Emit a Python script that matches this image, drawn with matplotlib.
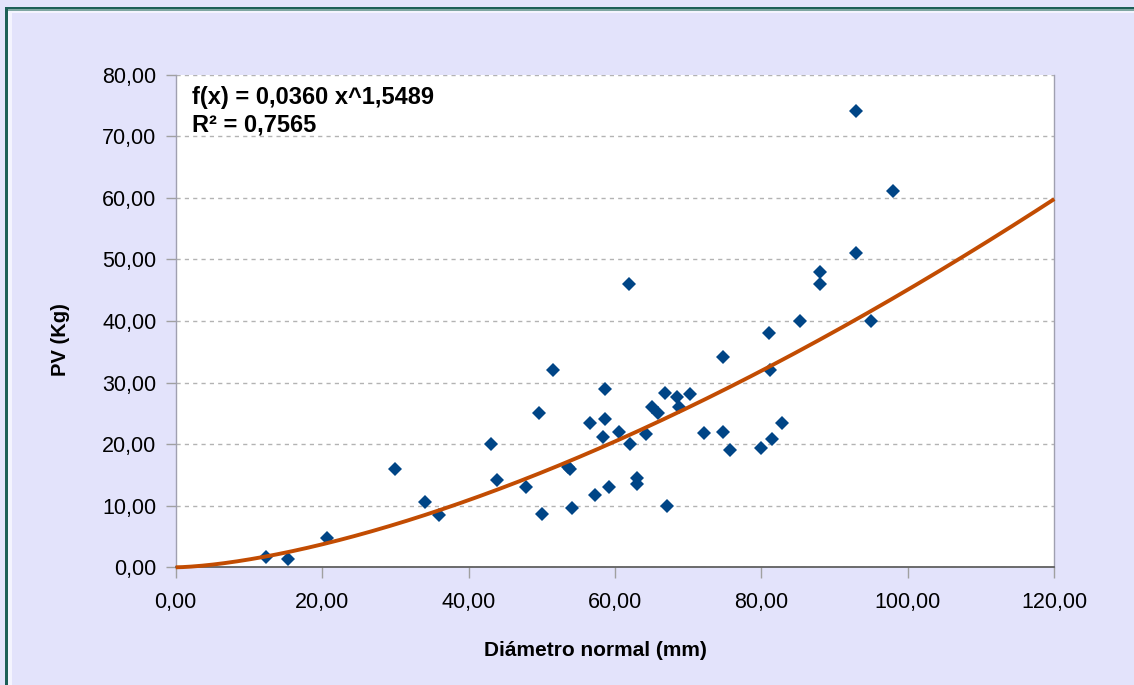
import matplotlib
matplotlib.use("Agg")
import matplotlib.pyplot as plt
from matplotlib.patches import Rectangle
from matplotlib.ticker import FuncFormatter
import numpy as np

plt.rcParams['font.family'] = ['Liberation Sans', 'DejaVu Sans']

# Diameter (mm) and weight PV (kg) of each sampled tree
diametro = [12.4, 15.3, 20.7, 29.9, 34.0, 35.9, 43.0, 43.9, 47.8, 49.6,
            50.0, 51.6, 53.6, 53.9, 54.1, 56.6, 57.3, 58.3, 58.6, 58.6,
            59.2, 60.5, 61.95, 62.1, 63.0, 63.0, 64.3, 65.05, 65.9, 66.8,
            67.1, 68.4, 68.7, 70.2, 72.2, 74.8, 74.8, 75.7, 79.9, 81.0,
            81.2, 81.5, 82.8, 85.3, 88.0, 88.0, 92.9, 92.9, 95.0, 98.0]
peso = [1.6, 1.4, 4.8, 16.0, 10.6, 8.5, 20.1, 14.2, 13.0, 25.1,
        8.7, 32.1, 16.3, 16.0, 9.6, 23.5, 11.7, 21.1, 29.0, 24.1,
        13.0, 22.0, 46.0, 20.1, 14.5, 13.5, 21.6, 26.1, 25.1, 28.3,
        10.0, 27.6, 26.1, 28.1, 21.8, 34.1, 21.9, 19.0, 19.4, 38.0,
        32.0, 20.8, 23.4, 40.0, 48.0, 46.0, 74.1, 51.0, 40.0, 61.1]

# Power-law trend line f(x) = a * x^b
coef_a = 0.0360
coef_b = 1.5489
r2 = 0.7565

x_ticks = [0, 20, 40, 60, 80, 100, 120]
y_ticks = [0, 10, 20, 30, 40, 50, 60, 70, 80]

W, H = 1134, 685
fig = plt.figure(figsize=(W / 100, H / 100), dpi=100)
fig.patch.set_facecolor('#e3e3fb')

# Outer frame: dark teal rule on the left and top, with a pale inner strip
fig.patches.append(Rectangle((7 / W, 0), 5 / W, 1 - 10 / H, transform=fig.transFigure,
                             facecolor='#f4f4fe', edgecolor='none', zorder=0))
fig.patches.append(Rectangle((7 / W, 1 - 13 / H), 1, 3 / H, transform=fig.transFigure,
                             facecolor='#f4f4fe', edgecolor='none', zorder=0))
fig.patches.append(Rectangle((5 / W, 0), 2.5 / W, 1 - 7 / H, transform=fig.transFigure,
                             facecolor='#1d5f57', edgecolor='none', zorder=1))
fig.patches.append(Rectangle((5 / W, 1 - 9.5 / H), 1, 2.5 / H, transform=fig.transFigure,
                             facecolor='#1d5f57', edgecolor='none', zorder=1))
fig.patches.append(Rectangle((7.5 / W, 1 - 10.5 / H), 1, 1 / H, transform=fig.transFigure,
                             facecolor='#7fa6a2', edgecolor='none', zorder=1))

left, right = 175.7, 1054.3
top, bottom = 74.7, 567.3
ax = fig.add_axes([left / W, 1 - bottom / H, (right - left) / W, (bottom - top) / H])
ax.set_facecolor('white')

ax.set_xlim(0, 120)
ax.set_ylim(0, 80)
ax.set_xticks(x_ticks)
ax.set_yticks(y_ticks)
fmt = FuncFormatter(lambda v, p: f"{v:.2f}".replace('.', ','))
ax.xaxis.set_major_formatter(fmt)
ax.yaxis.set_major_formatter(fmt)

ax.grid(axis='y', color='#b3b3b3', linestyle=(0, (3, 3)), linewidth=1.0, zorder=0)
ax.set_axisbelow(True)

for side in ('left', 'right'):
    ax.spines[side].set_color('#a0a0b0')
    ax.spines[side].set_linewidth(1.0)
ax.spines['bottom'].set_color('#606060')
ax.spines['bottom'].set_linewidth(1.3)
ax.spines['top'].set_visible(False)

ax.tick_params(axis='both', direction='out', color='#a0a0a0', width=1.0,
               labelsize=15.5, labelcolor='black')
ax.tick_params(axis='x', length=8, pad=10)
ax.tick_params(axis='y', length=7, pad=7)

# Scatter of measured trees
ax.plot(diametro, peso, linestyle='none', marker='D', markersize=6.8,
        color='#004586', markeredgewidth=0, zorder=3)

# Trend curve
xs = np.linspace(0, 120, 400)
ax.plot(xs, coef_a * xs ** coef_b, color='#c24c02', linewidth=2.8, zorder=4,
        solid_capstyle='butt', clip_on=False)

ax.text(0.0186, 0.978,
        f"f(x) = {coef_a:.4f} x^{coef_b:.4f}".replace('.', ',') + "\n" +
        f"R² = {r2:.4f}".replace('.', ','),
        transform=ax.transAxes, ha='left', va='top', fontsize=17,
        fontweight='bold', linespacing=1.28)

fig.text(595 / W, 1 - 650 / H, "Diámetro normal (mm)", ha='center', va='center',
         fontsize=15, fontweight='bold')
fig.text(60 / W, 1 - 340 / H, "PV (Kg)", ha='center', va='center',
         rotation=90, fontsize=14.5, fontweight='bold')

fig.savefig('out.png', dpi=100, facecolor=fig.get_facecolor())
